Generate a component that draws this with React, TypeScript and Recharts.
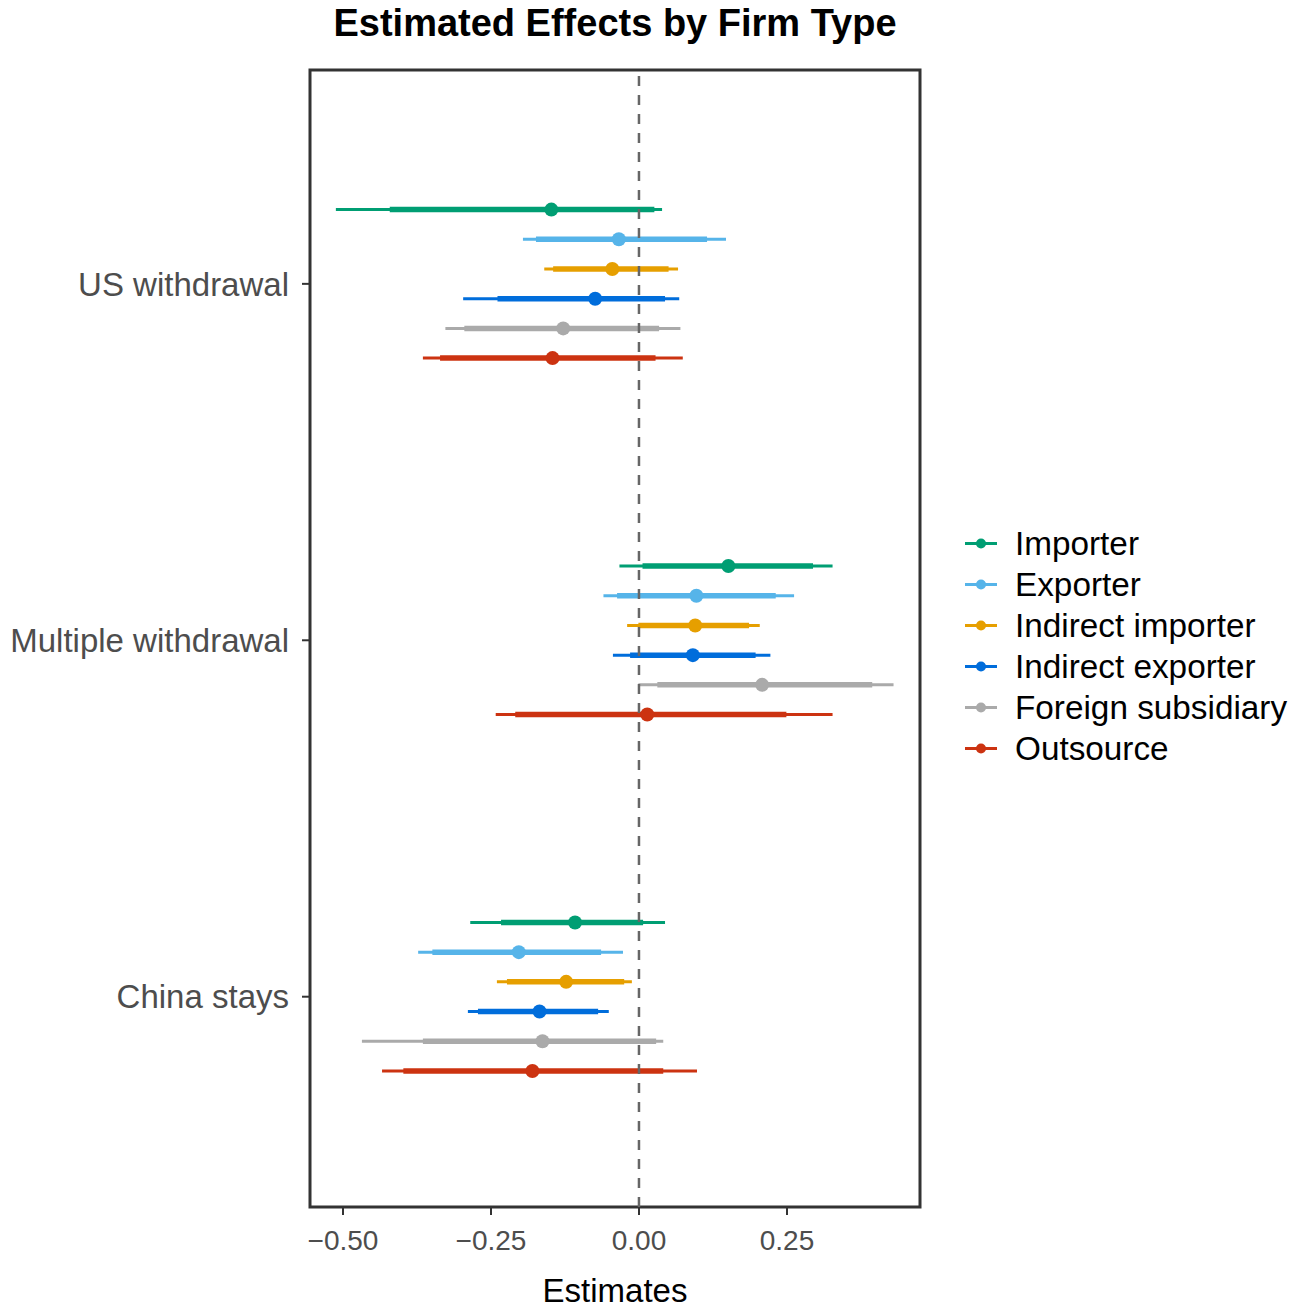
import {
  ScatterChart,
  Scatter,
  XAxis,
  YAxis,
  ErrorBar,
  ReferenceLine,
  ReferenceArea,
} from "recharts";

const groups = ["US withdrawal", "Multiple withdrawal", "China stays"];

const firmTypes = [
  "Importer",
  "Exporter",
  "Indirect importer",
  "Indirect exporter",
  "Foreign subsidiary",
  "Outsource",
];

const COLORS = [
  "#009E73", // green
  "#56B4E9", // sky blue
  "#E69F00", // orange
  "#006DDB", // blue
  "#AAAAAA", // grey
  "#CC3311", // red
];

// rows = firm type, cols = group (US, Multiple, China)
const estimates = [
  [-0.148, 0.151, -0.108],
  [-0.034, 0.097, -0.203],
  [-0.045, 0.095, -0.123],
  [-0.074, 0.091, -0.168],
  [-0.128, 0.208, -0.163],
  [-0.146, 0.014, -0.18],
];

const lower95 = [
  [-0.512, -0.033, -0.285],
  [-0.196, -0.06, -0.373],
  [-0.16, -0.02, -0.24],
  [-0.297, -0.044, -0.289],
  [-0.327, -0.001, -0.468],
  [-0.365, -0.242, -0.434],
];

const lower90 = [
  [-0.421, 0.006, -0.233],
  [-0.174, -0.037, -0.349],
  [-0.145, -0.001, -0.223],
  [-0.239, -0.015, -0.272],
  [-0.295, 0.031, -0.365],
  [-0.336, -0.209, -0.398],
];

const upper90 = [
  [0.026, 0.294, 0.007],
  [0.115, 0.231, -0.064],
  [0.05, 0.186, -0.025],
  [0.044, 0.197, -0.069],
  [0.034, 0.394, 0.029],
  [0.028, 0.249, 0.041],
];

const upper95 = [
  [0.039, 0.327, 0.044],
  [0.147, 0.262, -0.027],
  [0.066, 0.204, -0.012],
  [0.068, 0.222, -0.051],
  [0.07, 0.43, 0.041],
  [0.074, 0.327, 0.098],
];

const xTicks = [-0.5, -0.25, 0, 0.25];

const X_DOMAIN: [number, number] = [-0.5557, 0.4747];
const Y_DOMAIN: [number, number] = [0.4, 3.59];
const DODGE = 0.5;

const FONT = "'Liberation Sans', Arial, Helvetica, sans-serif";

function seriesData(fi: number) {
  const step = DODGE / firmTypes.length;
  const offset = (fi - (firmTypes.length - 1) / 2) * step;
  return groups.map((_, gi) => {
    const est = estimates[fi][gi];
    return {
      x: est,
      y: gi + 1 + offset,
      e95: [est - lower95[fi][gi], upper95[fi][gi] - est],
      e90: [est - lower90[fi][gi], upper90[fi][gi] - est],
    };
  });
}

const fmtX = (v: number) =>
  (v < 0 ? "\u2212" : "") + Math.abs(v).toFixed(2);

export default function App() {
  return (
    <div
      style={{
        position: "absolute",
        left: 0,
        top: 0,
        width: 1306,
        height: 1308,
        background: "#fff",
        fontFamily: FONT,
      }}
    >
      {/* Title */}
      <div
        style={{
          position: "absolute",
          left: 310,
          width: 610,
          top: 4,
          textAlign: "center",
          fontSize: 38,
          lineHeight: "38px",
          fontWeight: "bold",
          color: "#000",
          whiteSpace: "nowrap",
        }}
      >
        Estimated Effects by Firm Type
      </div>

      <ScatterChart
        width={1306}
        height={1308}
        margin={{ top: 70, right: 386, bottom: 5, left: 10 }}
        style={{ fontFamily: FONT }}
      >
        <XAxis
          type="number"
          dataKey="x"
          domain={X_DOMAIN}
          ticks={xTicks}
          allowDataOverflow
          tickFormatter={fmtX}
          axisLine={false}
          tickLine={{ stroke: "#333", strokeWidth: 2 }}
          tickSize={8}
          tickMargin={15}
          height={96}
          tick={{ fill: "#4D4D4D", fontSize: 28 }}
          label={{
            value: "Estimates",
            position: "insideBottom",
            offset: 1,
            fill: "#000",
            fontSize: 33,
          }}
        />
        <YAxis
          type="number"
          dataKey="y"
          domain={Y_DOMAIN}
          reversed
          ticks={[1, 2, 3]}
          allowDataOverflow
          tickFormatter={(v: number) => groups[v - 1] ?? ""}
          axisLine={false}
          tickLine={{ stroke: "#333", strokeWidth: 2 }}
          tickSize={8}
          tickMargin={13}
          width={300}
          tick={{ fill: "#4D4D4D", fontSize: 33 }}
        />

        {firmTypes.map((name, fi) => (
          <Scatter
            key={name}
            name={name}
            data={seriesData(fi)}
            fill={COLORS[fi]}
            isAnimationActive={false}
            shape={(p: any) => (
              <circle cx={p.cx} cy={p.cy} r={7} fill={COLORS[fi]} />
            )}
          >
            <ErrorBar
              dataKey="e95"
              direction="x"
              width={0}
              stroke={COLORS[fi]}
              strokeWidth={3}
              isAnimationActive={false}
            />
            <ErrorBar
              dataKey="e90"
              direction="x"
              width={0}
              stroke={COLORS[fi]}
              strokeWidth={5.5}
              isAnimationActive={false}
            />
          </Scatter>
        ))}

        <ReferenceLine
          x={0}
          stroke="#666"
          strokeWidth={2.5}
          strokeDasharray="10 9"
        />
        <ReferenceArea
          x1={X_DOMAIN[0]}
          x2={X_DOMAIN[1]}
          y1={Y_DOMAIN[0]}
          y2={Y_DOMAIN[1]}
          fill="none"
          fillOpacity={0}
          stroke="#333"
          strokeWidth={3}
        />
      </ScatterChart>

      {/* Legend */}
      <div style={{ position: "absolute", left: 963, top: 523 }}>
        {firmTypes.map((name, fi) => (
          <div
            key={name}
            style={{
              display: "flex",
              alignItems: "center",
              height: 41,
              fontSize: 33.3,
              lineHeight: "41px",
              color: "#000",
              whiteSpace: "nowrap",
            }}
          >
            <svg width={36} height={41} style={{ marginRight: 16 }}>
              <line
                x1={2}
                x2={34}
                y1={20.5}
                y2={20.5}
                stroke={COLORS[fi]}
                strokeWidth={3}
              />
              <circle cx={18} cy={20.5} r={5} fill={COLORS[fi]} />
            </svg>
            <span>{name}</span>
          </div>
        ))}
      </div>
    </div>
  );
}
